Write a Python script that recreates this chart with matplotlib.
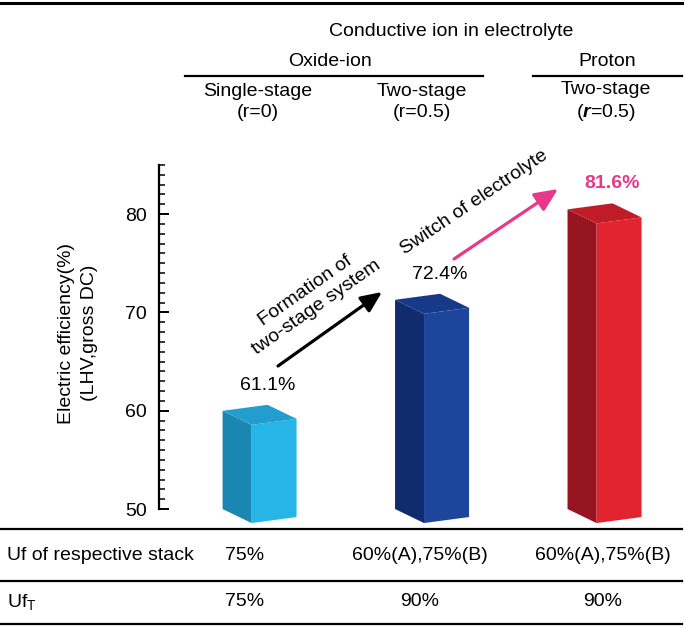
import matplotlib.pyplot as plt
from matplotlib.patches import Polygon
from matplotlib.ticker import MultipleLocator

plt.rcParams['font.family'] = 'Liberation Sans'
plt.rcParams['font.size'] = 14
plt.rcParams['mathtext.fontset'] = 'custom'
plt.rcParams['mathtext.rm'] = 'Liberation Sans'
plt.rcParams['mathtext.it'] = 'Liberation Sans:italic:bold'

# data
groups = ['Oxide-ion', 'Proton']
conditions = ['Single-stage\n(r=0)', 'Two-stage\n(r=0.5)', 'Two-stage\n($\\mathit{r}$=0.5)']
efficiency = [61.1, 72.4, 81.6]
uf_stack = ['75%', '60%(A),75%(B)', '60%(A),75%(B)']
uf_total = ['75%', '90%', '90%']
yticks = [50, 60, 70, 80]

# front, side, top
bar_colors = [('#27b5e8', '#1a87b2', '#219dcf'),
              ('#1d459b', '#102b6e', '#173a88'),
              ('#e22330', '#971520', '#bf1c28')]
pink = '#e8388a'

W, H = 685, 627
fig = plt.figure(figsize=(6.85, 6.27), dpi=100)


def px(x0, y0, x1, y1):
    return [x0 / W, 1 - y1 / H, (x1 - x0) / W, (y1 - y0) / H]


ax = fig.add_axes(px(159, 165, 683, 509))
ax.set_ylim(50, 85)
ax.set_xlim(-0.667, 2.371)
for s in ['top', 'right', 'bottom']:
    ax.spines[s].set_visible(False)
ax.spines['left'].set_linewidth(1.6)
ax.set_xticks([])
ax.set_yticks(yticks)
ax.yaxis.set_minor_locator(MultipleLocator(1))
ax.tick_params(axis='y', which='major', direction='in', length=7, width=1.4, pad=8.5, labelsize=14)
ax.tick_params(axis='y', which='minor', direction='in', length=4, width=1.1)
ax.patch.set_visible(False)

# 3D box shape (data units)
wx, wy = 0.261, 0.612
dx, dy = 0.168, -1.43
base = 50

for i, (v, cols) in enumerate(zip(efficiency, bar_colors)):
    lx = i - dx - wx / 2
    ty = v - 0.5
    ly = ty - wy
    L = (lx, ly)
    T = (lx + wx, ty)
    FL = (lx + dx, ly + dy)
    FR = (lx + dx + wx, ly + dy + wy)
    Lb = (lx, base)
    FLb = (lx + dx, base + dy)
    FRb = (lx + dx + wx, base + dy + wy)
    front, side, top = cols
    ax.add_patch(Polygon([FL, FR, FRb, FLb], closed=True, fc=front, ec='none', clip_on=False))
    ax.add_patch(Polygon([L, FL, FLb, Lb], closed=True, fc=side, ec='none', clip_on=False))
    ax.add_patch(Polygon([L, T, FR, FL], closed=True, fc=top, ec='none', clip_on=False))
    if i == 2:
        ax.text(lx + wx, v + 1.5, f'{v}%', ha='center', va='center', color=pink, fontweight='bold')
    else:
        ax.text(lx + wx, v + 1.5, f'{v}%', ha='center', va='center', color='black')

# overlay in pixel coords for table, header and annotations
ov = fig.add_axes([0, 0, 1, 1])
ov.set_xlim(0, W)
ov.set_ylim(H, 0)
ov.axis('off')

ov.text(78, 333, 'Electric efficiency(%)\n(LHV,gross DC)', rotation=90,
        ha='center', va='center', linespacing=1.45)

# header
ov.plot([0, 682], [3, 3], color='black', lw=2.2)
ov.text(451, 31, 'Conductive ion in electrolyte', ha='center', va='center')
ov.text(330, 61, groups[0], ha='center', va='center')
ov.text(607, 61, groups[1], ha='center', va='center')
ov.plot([185, 483], [76, 76], color='black', lw=1.6)
ov.plot([533, 682], [76, 76], color='black', lw=1.6)
hdr_x = [258, 422, 606]
for x, c in zip(hdr_x, conditions):
    ov.text(x, 102, c, ha='center', va='center', multialignment='center', linespacing=1.3)

# table
for y in [529, 581, 624]:
    ov.plot([0, 682], [y, y], color='black', lw=1.6)
tab_x = [245, 420, 603]
ov.text(7, 555, 'Uf of respective stack', ha='left', va='center')
ov.text(7, 602, 'Uf$_\\mathrm{T}$', ha='left', va='center')
for x, a, b in zip(tab_x, uf_stack, uf_total):
    ov.text(x, 555, a, ha='center', va='center')
    ov.text(x, 602, b, ha='center', va='center')

# arrows
ov.annotate('', xy=(382, 292), xytext=(278, 366),
            arrowprops=dict(arrowstyle='-|>,head_length=0.9,head_width=0.4',
                            lw=2.3, color='black', shrinkA=0, shrinkB=0))
ov.text(311, 299, 'Formation of\ntwo-stage system', rotation=35, rotation_mode='anchor',
        ha='center', va='center', multialignment='center')
ov.annotate('', xy=(558, 189), xytext=(454, 259),
            arrowprops=dict(arrowstyle='-|>,head_length=1.0,head_width=0.45',
                            lw=2.3, color=pink, shrinkA=0, shrinkB=0))
ov.text(474, 202, 'Switch of electrolyte', rotation=34, rotation_mode='anchor',
        ha='center', va='center')

fig.savefig('out.png', dpi=100)
